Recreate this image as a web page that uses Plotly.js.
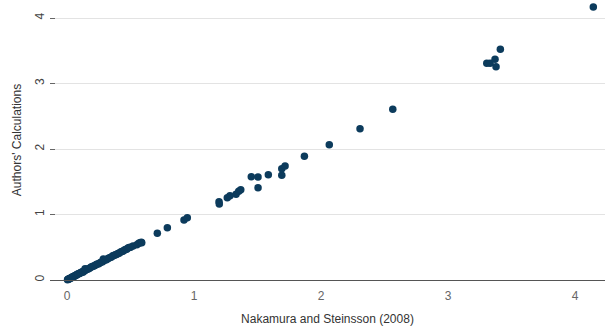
<!DOCTYPE html>
<html>
<head>
<meta charset="utf-8">
<script src="https://cdn.plot.ly/plotly-3.0.1.min.js"></script>
<style>html,body{margin:0;padding:0;background:#fff;}#chart{width:605px;height:326px;}</style>
</head>
<body>
<div id="chart"></div>
<script>
// Nakamura and Steinsson (2008) values vs Authors' Calculations
const nsValues = [
  0.004,0.008,0.012,0.016,0.02,0.025,0.03,0.035,0.04,0.045,0.05,0.055,0.06,0.065,0.07,0.075,0.08,0.085,0.09,0.1,
  0.105,0.11,0.12,0.125,0.13,0.14,0.142,0.15,0.16,0.17,0.18,0.19,0.2,0.21,0.22,0.23,0.24,0.25,0.26,0.27,
  0.28,0.286,0.29,0.3,0.31,0.32,0.33,0.34,0.35,0.36,0.37,0.38,0.39,0.4,0.41,0.42,0.43,0.44,0.45,0.46,
  0.47,0.48,0.49,0.5,0.52,0.55,0.565,0.575,0.585,0.588,
  0.711,0.790,0.921,0.947,1.197,1.199,1.262,1.283,1.331,1.352,1.368,1.451,1.504,1.504,1.585,1.691,1.691,1.717,
  1.869,2.065,2.307,2.565,3.305,3.331,3.378,3.370,3.412,4.144
];
const authorsValues = [
  0.002,0.01,0.01,0.018,0.02,0.028,0.03,0.036,0.045,0.043,0.052,0.058,0.06,0.07,0.068,0.08,0.083,0.09,0.095,0.1,
  0.11,0.115,0.125,0.12,0.135,0.14,0.17,0.155,0.165,0.17,0.185,0.2,0.205,0.215,0.22,0.235,0.245,0.25,0.265,0.275,
  0.28,0.32,0.3,0.305,0.31,0.325,0.335,0.345,0.35,0.37,0.375,0.385,0.39,0.405,0.41,0.425,0.435,0.44,0.455,0.465,
  0.47,0.49,0.495,0.5,0.52,0.54,0.56,0.57,0.575,0.569,
  0.713,0.798,0.916,0.951,1.195,1.160,1.256,1.287,1.308,1.354,1.379,1.577,1.573,1.409,1.608,1.598,1.699,1.740,
  1.889,2.066,2.310,2.606,3.308,3.308,3.257,3.370,3.522,4.168
];
const yTickVals = [0,1,2,3,4];
const xTickVals = [0,1,2,3,4];

const trace = {
  type: 'scatter',
  mode: 'markers',
  x: nsValues,
  y: authorsValues,
  cliponaxis: false,
  marker: {color: '#0c3b5c', size: 7.5, line: {width: 0}},
  hoverinfo: 'skip'
};

const layout = {
  width: 605, height: 326,
  margin: {l: 50, r: 0, t: 0, b: 46},
  paper_bgcolor: '#ffffff',
  plot_bgcolor: '#ffffff',
  showlegend: false,
  font: {family: 'Liberation Sans, Arial, sans-serif', size: 12, color: '#333'},
  xaxis: {
    range: [-0.134, 4.236],
    tickvals: xTickVals,
    ticktext: xTickVals.map(String),
    showgrid: false,
    zeroline: false,
    showline: true,
    linecolor: '#555',
    linewidth: 1,
    ticks: '',
    ticklabelstandoff: 5,
    tickfont: {size: 12, color: '#666'},
    title: {text: 'Nakamura and Steinsson (2008)', font: {size: 12, color: '#333'}, standoff: 12}
  },
  yaxis: {
    range: [0, 4.275],
    tickvals: yTickVals,
    ticktext: yTickVals.map(String),
    showgrid: true,
    gridcolor: '#e3e3e3',
    gridwidth: 1,
    zeroline: false,
    showline: false,
    ticks: 'inside',
    ticklen: 5,
    tickcolor: '#666',
    tickangle: -90,
    ticklabelstandoff: 3,
    tickfont: {size: 12, color: '#444'},
    title: {text: "Authors' Calculations", font: {size: 12, color: '#333'}, standoff: 8}
  }
};

Plotly.newPlot('chart', [trace], layout, {staticPlot: true, displayModeBar: false});
</script>
</body>
</html>
